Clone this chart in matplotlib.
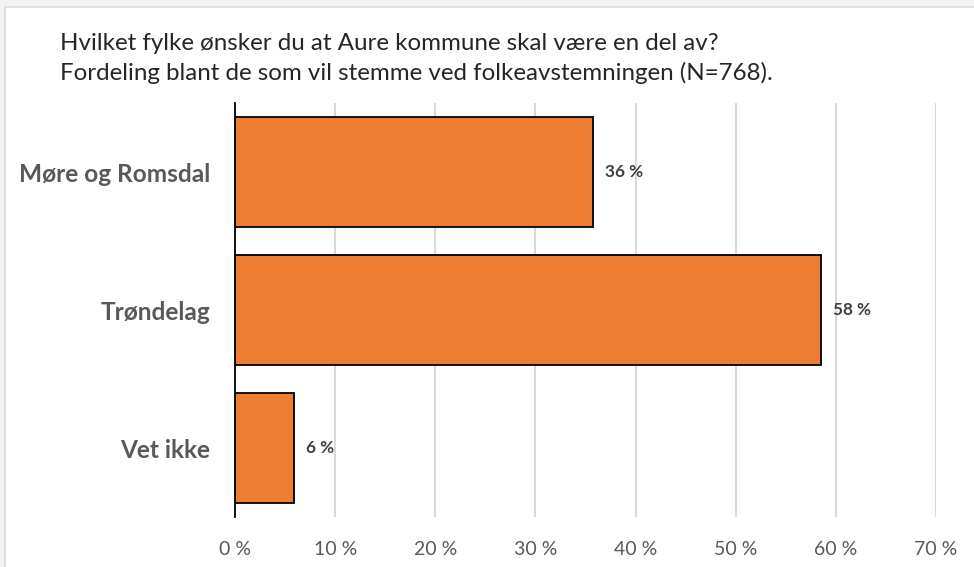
import matplotlib
matplotlib.use("Agg")
import matplotlib.pyplot as plt
from matplotlib.patches import Rectangle
from matplotlib.ticker import FuncFormatter

# Data
categories = ["Møre og Romsdal", "Trøndelag", "Vet ikke"]
shares = [35.7, 58.5, 5.9]
share_labels = ["36 %", "58 %", "6 %"]
x_ticks = [0, 10, 20, 30, 40, 50, 60, 70]

TITLE_LINES = ["Hvilket fylke ønsker du at Aure kommune skal være en del av?",
               "Fordeling blant de som vil stemme ved folkeavstemningen (N=768)."]

FONT = ["Lato", "DejaVu Sans"]
BAR_COLOR = "#ED7D31"
GRID_COLOR = "#D9D9D9"
TEXT_GRAY = "#595959"
LABEL_GRAY = "#404040"

plt.rcParams["font.family"] = FONT

fig = plt.figure(figsize=(9.74, 5.67), dpi=100)
fig.patch.set_facecolor("white")

# Screenshot frame: grey strip along top and left edge
fig.patches.append(Rectangle((0, 1 - 7 / 567), 1, 7 / 567, transform=fig.transFigure,
                             facecolor="#F2F2F2", edgecolor="none", zorder=0))
fig.patches.append(Rectangle((0, 0), 5 / 974, 1, transform=fig.transFigure,
                             facecolor="#F2F2F2", edgecolor="none", zorder=0))
fig.add_artist(plt.Line2D([5 / 974, 1], [1 - 7 / 567] * 2, transform=fig.transFigure,
                          color="#DADADA", linewidth=1.2))
fig.add_artist(plt.Line2D([5 / 974] * 2, [0, 1 - 7 / 567], transform=fig.transFigure,
                          color="#DADADA", linewidth=1.2))

ax = fig.add_axes([235 / 974, 1 - 517 / 567, (936 - 235) / 974, (517 - 103) / 567])

y_pos = list(range(len(categories)))
ax.barh(y_pos, shares, height=0.8, color=BAR_COLOR, edgecolor="black",
        linewidth=1.3, zorder=3)

for y, v, lab in zip(y_pos, shares, share_labels):
    ax.text(v + 1.2, y, lab, va="center", ha="left", fontsize=12.3,
            fontweight="bold", color=LABEL_GRAY)

ax.set_xlim(0, 70)
ax.set_ylim(len(categories) - 0.5, -0.5)
ax.set_xticks(x_ticks)
ax.xaxis.set_major_formatter(FuncFormatter(lambda v, _: f"{v:.0f} %"))
ax.set_yticks(y_pos)
ax.set_yticklabels(categories, fontsize=17.6, fontweight="bold", color=TEXT_GRAY)

ax.grid(axis="x", color=GRID_COLOR, linewidth=1.5, zorder=0)
ax.set_axisbelow(True)
for side in ("top", "right", "bottom"):
    ax.spines[side].set_visible(False)
ax.spines["left"].set_color("black")
ax.spines["left"].set_linewidth(1.3)
ax.spines["left"].set_zorder(4)

ax.tick_params(axis="x", length=0, pad=17, labelsize=14, labelcolor=TEXT_GRAY)
ax.tick_params(axis="y", length=0, pad=18)

for i, line in enumerate(TITLE_LINES):
    fig.text(60 / 974, 1 - (50 + 30 * i) / 567, line, ha="left", va="baseline",
             fontsize=17.4, color="#262626")

fig.savefig("out.png", dpi=100, facecolor=fig.get_facecolor())
